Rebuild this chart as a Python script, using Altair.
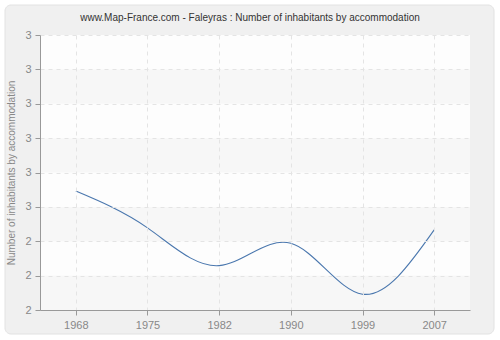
import altair as alt
import pandas as pd

years = ["1968", "1975", "1982", "1990", "1999", "2007"]
values = [2.546, 2.439, 2.329, 2.394, 2.246, 2.433]
y_ticks = [2.2, 2.3, 2.4, 2.5, 2.6, 2.7, 2.8, 2.9, 3.0]
band_starts = [2.2, 2.4, 2.6, 2.8]
band_ends = [2.3, 2.5, 2.7, 2.9]
title_text = "www.Map-France.com - Faleyras : Number of inhabitants by accommodation"
y_title = "Number of inhabitants by accommodation"

df = pd.DataFrame({"year": years, "value": values})
bands = pd.DataFrame({"y": band_starts, "y2": band_ends})

W, H = 430, 275
FONT = "Liberation Sans"

outer = alt.Chart(pd.DataFrame({"a": [0]})).mark_rect(
    fill="#f0f0f0", stroke="#e2e2e2", strokeWidth=1, cornerRadius=6
).encode(
    x=alt.value(-35), x2=alt.value(W + 24),
    y=alt.value(-30), y2=alt.value(H + 24)
)

plotbg = alt.Chart(pd.DataFrame({"a": [0]})).mark_rect(fill="#fdfdfd").encode(
    x=alt.value(0), x2=alt.value(W), y=alt.value(0), y2=alt.value(H)
)

title = alt.Chart(pd.DataFrame({"t": [title_text]})).mark_text(
    font=FONT, fontSize=10, color="#333333", align="center", baseline="middle"
).encode(text="t:N", x=alt.value(W / 2 - 5), y=alt.value(-17))

yscale = alt.Scale(domain=[2.2, 3.0], nice=False, zero=False)

band = alt.Chart(bands).mark_rect(fill="#f7f7f7").encode(
    x=alt.value(0), x2=alt.value(W),
    y=alt.Y("y:Q", scale=yscale),
    y2="y2:Q",
)

line = alt.Chart(df).mark_line(
    color="#4a77ae", strokeWidth=1.1, interpolate="natural"
).encode(
    x=alt.X("year:O", scale=alt.Scale(type="point", padding=0.5),
            axis=alt.Axis(title=None, labelAngle=0, grid=True,
                          gridDash=[4, 4], gridColor="#e4e4e4",
                          domainColor="#999999", tickColor="#999999",
                          tickSize=5, labelColor="#888888", labelFontSize=11,
                          labelPadding=4, labelFont=FONT, zindex=1)),
    y=alt.Y("value:Q", scale=yscale,
            axis=alt.Axis(title=y_title, values=y_ticks,
                          tickCount=len(y_ticks),
                          labelExpr="round(datum.value)", labelOverlap=False,
                          grid=True, gridDash=[4, 4], gridColor="#e4e4e4",
                          domainColor="#999999", tickColor="#999999",
                          tickSize=5, labelColor="#888888", labelFontSize=11,
                          labelPadding=4, labelFont=FONT,
                          titleColor="#888888", titleFontSize=10,
                          titleFontWeight="normal", titleFont=FONT,
                          titlePadding=8, zindex=1)),
)

chart = alt.layer(outer, plotbg, band, line, title).properties(
    width=W, height=H,
    autosize=alt.AutoSizeParams(type="none"),
    padding={"left": 40, "top": 35, "right": 30, "bottom": 30},
).configure_view(stroke=None).configure(background="white")

chart.save("out.html", embed_options={"renderer": "svg", "actions": False})
